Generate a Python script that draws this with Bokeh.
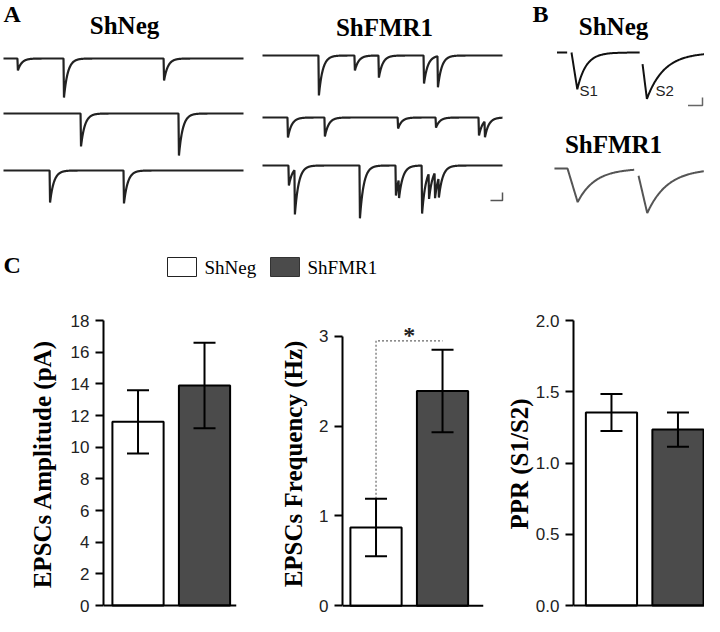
import numpy as np
from bokeh.plotting import figure
from bokeh.models import (Range1d, FixedTicker, NumeralTickFormatter, Whisker,
                          TeeHead, ColumnDataSource, Span)
from bokeh.layouts import column, row
from bokeh.core.properties import value
from bokeh.embed import file_html
from bokeh.resources import INLINE

# ------------------------------------------------------------------ data
groups = ["ShNeg", "ShFMR1"]
group_fill = ["white", "#4b4b4b"]

amp_mean = [11.6, 13.9]
amp_sem = [2.0, 2.7]
freq_mean = [0.87, 2.39]
freq_sem = [0.32, 0.46]
ppr_mean = [1.355, 1.235]
ppr_sem = [0.13, 0.12]

amp_ticks = [0, 2, 4, 6, 8, 10, 12, 14, 16, 18]
freq_ticks = [0, 1, 2, 3]
ppr_ticks = [0.0, 0.5, 1.0, 1.5, 2.0]
freq_sig_y = 2.95
sig_text = "*"

amp_label = "EPSCs Amplitude (pA)"
freq_label = "EPSCs Frequency (Hz)"
ppr_label = "PPR (S1/S2)"

# panel A: spontaneous EPSC events per sweep (onset ms, amplitude pA)
sweep_ms = 1000
shneg_event_ms = [[58, 250, 667], [321, 729], [192, 500]]
shneg_event_pA = [[7.5, 24.4, 13.8], [20.6, 26.3], [20.0, 20.6]]
shfmr1_event_ms = [[233, 383, 483, 671, 729],
                   [104, 258, 563, 721, 900, 925],
                   [108, 133, 404, 554, 567, 663, 692, 717, 733]]
shfmr1_event_pA = [[25.0, 9.4, 13.8, 17.5, 19.4],
                   [12.5, 11.9, 6.9, 6.3, 11.3, 10.0],
                   [12.5, 28.0, 33.0, 18.8, 12.0, 30.0, 16.0, 16.0, 12.5]]
sEPSC_rise_ms = 2.0
sEPSC_decay_ms = 16.0

# panel B: paired-pulse evoked EPSCs (S1, S2)
ppr_onset_ms = [0, 48]
ppr_neg_pA = [23.0, 29.0]
ppr_fmr_pA = [21.0, 27.5]
ppr_neg_rise_ms = 4.0
ppr_fmr_rise_ms = 7.0
ppr_neg_decay_ms = [6.0, 12.0]
ppr_fmr_decay_ms = [12.0, 14.0]
ppr_neg_pieces_ms = [(-10, -3), (0, 47), (49, 92)]
ppr_fmr_pieces_ms = [(-9, 46), (49, 94)]

scalebar_A = (50, 5)   # ms, pA
scalebar_B = (10, 5)   # ms, pA

# ------------------------------------------------------------------ helpers
SERIF = value("Liberation Serif")
SANS = value("Liberation Sans")


def epsc(t, onsets, amps, rise, taus):
    y = np.zeros_like(t, dtype=float)
    if np.isscalar(taus):
        taus = [taus] * len(onsets)
    for t0, a, tau in zip(onsets, amps, taus):
        dt = t - t0
        r = (dt >= 0) & (dt < rise)
        y[r] += a * dt[r] / rise
        d = dt >= rise
        y[d] += a * np.exp(-(dt[d] - rise) / tau)
    return y


# ------------------------------------------------------------------ top figure (traces)
TOP_H = 282
top = figure(width=704, height=TOP_H, x_range=Range1d(0, 704), y_range=Range1d(TOP_H, 0),
             x_axis_type=None, y_axis_type=None, min_border=0,
             toolbar_location=None, output_backend="svg", outline_line_color=None)
top.grid.visible = False

A_px_ms = 0.24
A_px_pA = 1.6
t_sweep = np.arange(0, sweep_ms + 1, 1.0)
for x0, bases, ev_ms, ev_pA in [(3, [58, 113, 170], shneg_event_ms, shneg_event_pA),
                                (262, [55, 117, 165], shfmr1_event_ms, shfmr1_event_pA)]:
    for base, ms, pa in zip(bases, ev_ms, ev_pA):
        cur = epsc(t_sweep, ms, pa, sEPSC_rise_ms, sEPSC_decay_ms)
        top.line(x0 + t_sweep * A_px_ms, base + cur * A_px_pA,
                 line_color="#222222", line_width=2.2)

# scale bar A
cx, cy = 502, 200
top.line([cx - scalebar_A[0] * A_px_ms, cx, cx], [cy, cy, cy - scalebar_A[1] * A_px_pA],
         line_color="#555555", line_width=1.5)

B_px_ms = 1.45
B_px_pA = 1.6
for x0, base, amps, rise, taus, pieces, col in [
        (571, 52, ppr_neg_pA, ppr_neg_rise_ms, ppr_neg_decay_ms, ppr_neg_pieces_ms, "#111111"),
        (567, 168, ppr_fmr_pA, ppr_fmr_rise_ms, ppr_fmr_decay_ms, ppr_fmr_pieces_ms, "#555555")]:
    for a, b in pieces:
        t = np.arange(a, b + 0.25, 0.5)
        cur = epsc(t, ppr_onset_ms, amps, rise, taus)
        top.line(x0 + t * B_px_ms, base + cur * B_px_pA, line_color=col, line_width=2)

cx, cy = 702, 105
top.line([cx - scalebar_B[0] * B_px_ms, cx, cx], [cy, cy, cy - scalebar_B[1] * B_px_pA],
         line_color="#666666", line_width=1.5)

# texts
top.text(x=[3, 532, 3], y=[13, 13, 264], text=["A", "B", "C"],
         text_font=SERIF, text_font_style="bold", text_font_size="24px",
         text_align="left", text_baseline="alphabetic", text_color="black")
top.text(x=[124, 384, 613, 613], y=[25, 27, 26, 144],
         text=[groups[0], groups[1], groups[0], groups[1]],
         text_font=SERIF, text_font_style="bold", text_font_size="25px",
         text_align="center", text_baseline="alphabetic", text_color="black")
top.text(x=[579, 655], y=[90, 90], text=["S1", "S2"],
         text_font=SANS, text_font_size="15px", text_align="left",
         text_baseline="alphabetic", text_color="#222222")

# legend
top.rect(x=[181.5, 284.5], y=[266.5, 266.5], width=29, height=19,
         fill_color=group_fill, line_color=["#222222", "#333333"], line_width=1)
top.text(x=[204, 307], y=[267, 267], text=groups,
         text_font=SERIF, text_font_size="19px", text_align="left",
         text_baseline="alphabetic", text_color="black")


# ------------------------------------------------------------------ bar charts
def bar_fig(width, bl, br, bt, xr, yr, bounds, ticks, label, means, sems, standoff, fmt=None):
    p = figure(width=width, height=334, x_range=Range1d(*xr), y_range=Range1d(*yr),
               x_axis_type=None, min_border_left=bl, min_border_right=br,
               min_border_top=bt, min_border_bottom=9,
               toolbar_location=None, output_backend="svg", outline_line_color=None)
    p.grid.visible = False
    ax = p.yaxis[0]
    ax.bounds = bounds
    ax.ticker = FixedTicker(ticks=ticks)
    if fmt:
        ax.formatter = NumeralTickFormatter(format=fmt)
    ax.axis_line_width = 2
    ax.axis_line_color = "black"
    ax.major_tick_line_width = 2
    ax.major_tick_line_color = "black"
    ax.major_tick_out = 8
    ax.major_tick_in = 0
    ax.minor_tick_line_color = None
    ax.major_label_text_font = "Liberation Sans"
    ax.major_label_text_font_size = "17px"
    ax.major_label_text_color = "#222222"
    ax.major_label_standoff = 6
    ax.axis_label = label
    ax.axis_label_text_font = "Liberation Serif"
    ax.axis_label_text_font_style = "bold"
    ax.axis_label_text_font_size = "25px"
    ax.axis_label_text_color = "black"
    ax.axis_label_standoff = standoff

    xs = list(range(len(groups)))
    src = ColumnDataSource(dict(x=xs, top=means, fill=group_fill,
                                upper=[m + s for m, s in zip(means, sems)],
                                lower=[m - s for m, s in zip(means, sems)]))
    p.vbar(x="x", top="top", bottom=0, width=0.77, fill_color="fill",
           line_color="black", line_width=2, source=src)
    p.add_layout(Whisker(source=src, base="x", upper="upper", lower="lower",
                         line_width=2, line_color="black", level="overlay",
                         upper_head=TeeHead(size=22, line_width=2, line_color="black"),
                         lower_head=TeeHead(size=22, line_width=2, line_color="black")))
    p.add_layout(Span(location=0, dimension="width", line_width=2, line_color="black"))
    return p


f1 = bar_fig(240, 103, 4, 38, (-0.519, 1.481), (-0.126, 18), (0, 18), amp_ticks,
             amp_label, amp_mean, amp_sem, 12)
f2 = bar_fig(248, 102, 5, 16, (-0.504, 1.616), (-0.0207, 3.176), (0, 3), freq_ticks,
             freq_label, freq_mean, freq_sem, 9)
f3 = bar_fig(216, 85, 0, 30, (-0.571, 1.399), (-0.01365, 2.0), (0, 2), ppr_ticks,
             ppr_label, ppr_mean, ppr_sem, 0, fmt="0.0")

# significance bracket in frequency chart
f2.line(x=[0, 0, 1], y=[freq_mean[0] + freq_sem[0], freq_sig_y, freq_sig_y],
        line_color="#666666", line_width=1.2, line_dash="2 2")
f2.text(x=[0.5], y=[freq_sig_y + 0.06], text=[sig_text], text_font=SERIF,
        text_font_style="bold", text_font_size="24px", text_align="center",
        text_baseline="middle", text_color="#222222")

layout = column(top, row(f1, f2, f3, spacing=0), spacing=0)

open("out.html", "w").write(file_html(layout, INLINE))
